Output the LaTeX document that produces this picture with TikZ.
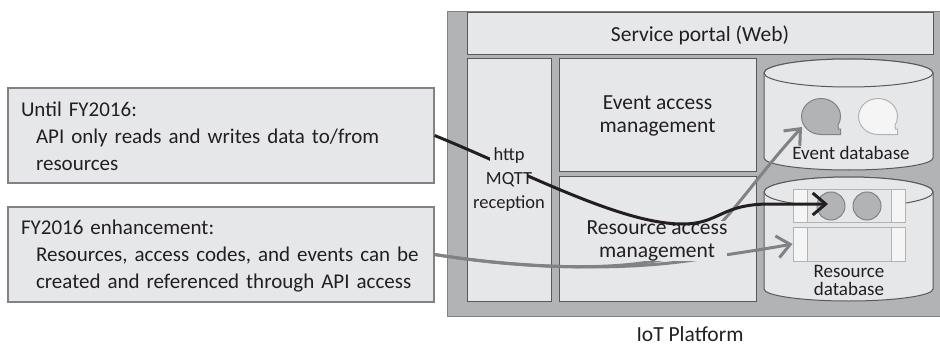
\documentclass[tikz,border=0pt]{standalone}
\usepackage{fontspec}
\setmainfont{Carlito}
\usetikzlibrary{arrows.meta}
\definecolor{platgray}{HTML}{B1B3B5}
\definecolor{boxgray}{HTML}{E6E7E9}
\definecolor{edgegray}{HTML}{58595B}
\definecolor{linegray}{HTML}{808285}
\definecolor{inkblack}{HTML}{231F20}
\tikzset{
  box/.style={draw=edgegray,fill=boxgray,line width=1pt,inner sep=0pt},
  notebox/.style={draw=linegray,fill=boxgray,line width=1.2pt,inner sep=0pt,minimum width=426pt,minimum height=95pt},
  notetext/.style={text=inkblack,inner sep=0pt,text width=400pt,align=left,font=\fontsize{21}{27}\selectfont},
  dbcan/.style={draw=edgegray,fill=boxgray,line width=1pt},
  strip/.style={draw=platgray,fill=boxgray,line width=1pt,minimum width=112pt,inner sep=0pt},
  stripend/.style={draw=platgray,fill=white!60!boxgray,line width=1pt,minimum width=14pt,inner sep=0pt},
  dot/.style={circle,draw=linegray,fill=platgray,line width=1pt,minimum size=28pt,inner sep=0pt},
  label/.style={text=inkblack,inner sep=0pt,align=center,font=\fontsize{21.5}{23.5}\selectfont},
  smalllabel/.style={text=inkblack,inner sep=0pt,align=center,font=\fontsize{19}{18}\selectfont},
  blackarrow/.style={draw=inkblack,line width=3pt,-{Straight Barb[length=13pt,width=22pt,line width=3pt]}},
  grayarrow/.style={draw=linegray,line width=3pt,-{Straight Barb[length=13pt,width=22pt,line width=3pt]}},
}
\newcommand{\bubble}[4]{%
  \draw[draw=#3,fill=#4,line width=1pt] (#1+19.5,#2+18) -- (#1-0,#2+18)
    arc[start angle=90,end angle=390,x radius=19.5,y radius=18]
    -- (#1+17.5,#2+12.5) -- (#1+19.5,#2+12.5) -- cycle;}
\newcommand{\cylinderbody}[3]{%
  \draw[dbcan] (764,#1) -- (764,#2) arc[start angle=180,end angle=0,x radius=84.5,y radius=12] -- (933,#1) arc[start angle=0,end angle=-180,x radius=84.5,y radius=#3] -- cycle;
  \draw[dbcan] (848.5,#1) ellipse[x radius=84.5,y radius=#3];}
\begin{document}
\begin{tikzpicture}[x=1pt,y=-1pt]
  \useasboundingbox (0,0) rectangle (940,345);
  \node[draw=linegray,fill=platgray,line width=1pt,minimum width=494pt,minimum height=304pt] (platform) at (694.5,164) {};
  \node[box,minimum width=466pt,minimum height=42pt] (portal) at (700,33.5) {};
  \node[label] (portallabel) at (700,35) {Service portal (Web)};
  \node[box,minimum width=84pt,minimum height=242pt] (reception) at (509,180) {};
  \node[box,minimum width=197pt,minimum height=112pt] (eventaccess) at (657.5,115) {};
  \node[label] (eventaccesslabel) at (657.5,116) {Event access\\management};
  \node[box,minimum width=197pt,minimum height=125pt] (resaccess) at (657.5,238.5) {};
  \cylinderbody{73}{158}{14}
  \cylinderbody{192}{289}{15}
  \bubble{821}{116.5}{linegray}{platgray}
  \bubble{878}{116.5}{platgray}{white!60!boxgray}
  \node[smalllabel] (eventlabel) at (851,153) {Event database};
  \node[strip,minimum height=33pt] (strip1) at (849,205.5) {};
  \node[stripend,minimum height=33pt] (strip1l) at (800,205.5) {};
  \node[stripend,minimum height=33pt] (strip1r) at (898,205.5) {};
  \node[strip,minimum height=34pt] (strip2) at (849,244) {};
  \node[stripend,minimum height=34pt] (strip2l) at (800,244) {};
  \node[stripend,minimum height=34pt] (strip2r) at (898,244) {};
  \node[dot] (dot1) at (831,206) {};
  \node[dot] (dot2) at (867,206) {};
  \node[smalllabel] (reslabel) at (849,280) {Resource\\database};
  \node[notebox] (until) at (221,135.5) {};
  \node[notetext] (untiltext) at (221,136.5)
    {Until FY2016:\\\hspace*{15pt}API only reads and writes data to/from\\\hspace*{15pt}resources};
  \node[notebox] (enhance) at (221,254.5) {};
  \node[notetext] (enhancetext) at (221,256.5)
    {FY2016 enhancement:\\\hspace*{15pt}Resources, access codes, and events can be\\\hspace*{15pt}created and referenced through API access};
  \node[label] (iot) at (690,334) {IoT Platform};
  \coordinate (eventtip) at (802,127);
  \coordinate (dottip) at (828,204);
  % arrows
  \draw[grayarrow] (enhance.east) .. controls (520,268) and (610,272) .. (670,258) .. controls (720,240) and (740,195) .. (eventtip);
  \draw[grayarrow] (enhance.east) .. controls (520,268) and (620,272) .. (700,259) .. controls (730,254) and (760,250) .. (strip2l.west);
  \node[label,fill=boxgray] (reslbl) at (657,241) {Resource access\\management};
  \draw[blackarrow] (until.east) .. controls (520,170) and (620,224) .. (682,224) .. controls (720,224) and (720,204) .. (770,204) -- (dottip);
  \node[fill=boxgray,minimum width=38pt,minimum height=28pt,inner sep=0pt] (httpgap) at (509,165) {};
  \node[label,font=\fontsize{18.5}{24}\selectfont] (httplbl) at (509,180) {http\\MQTT\\reception};
\end{tikzpicture}
\end{document}
